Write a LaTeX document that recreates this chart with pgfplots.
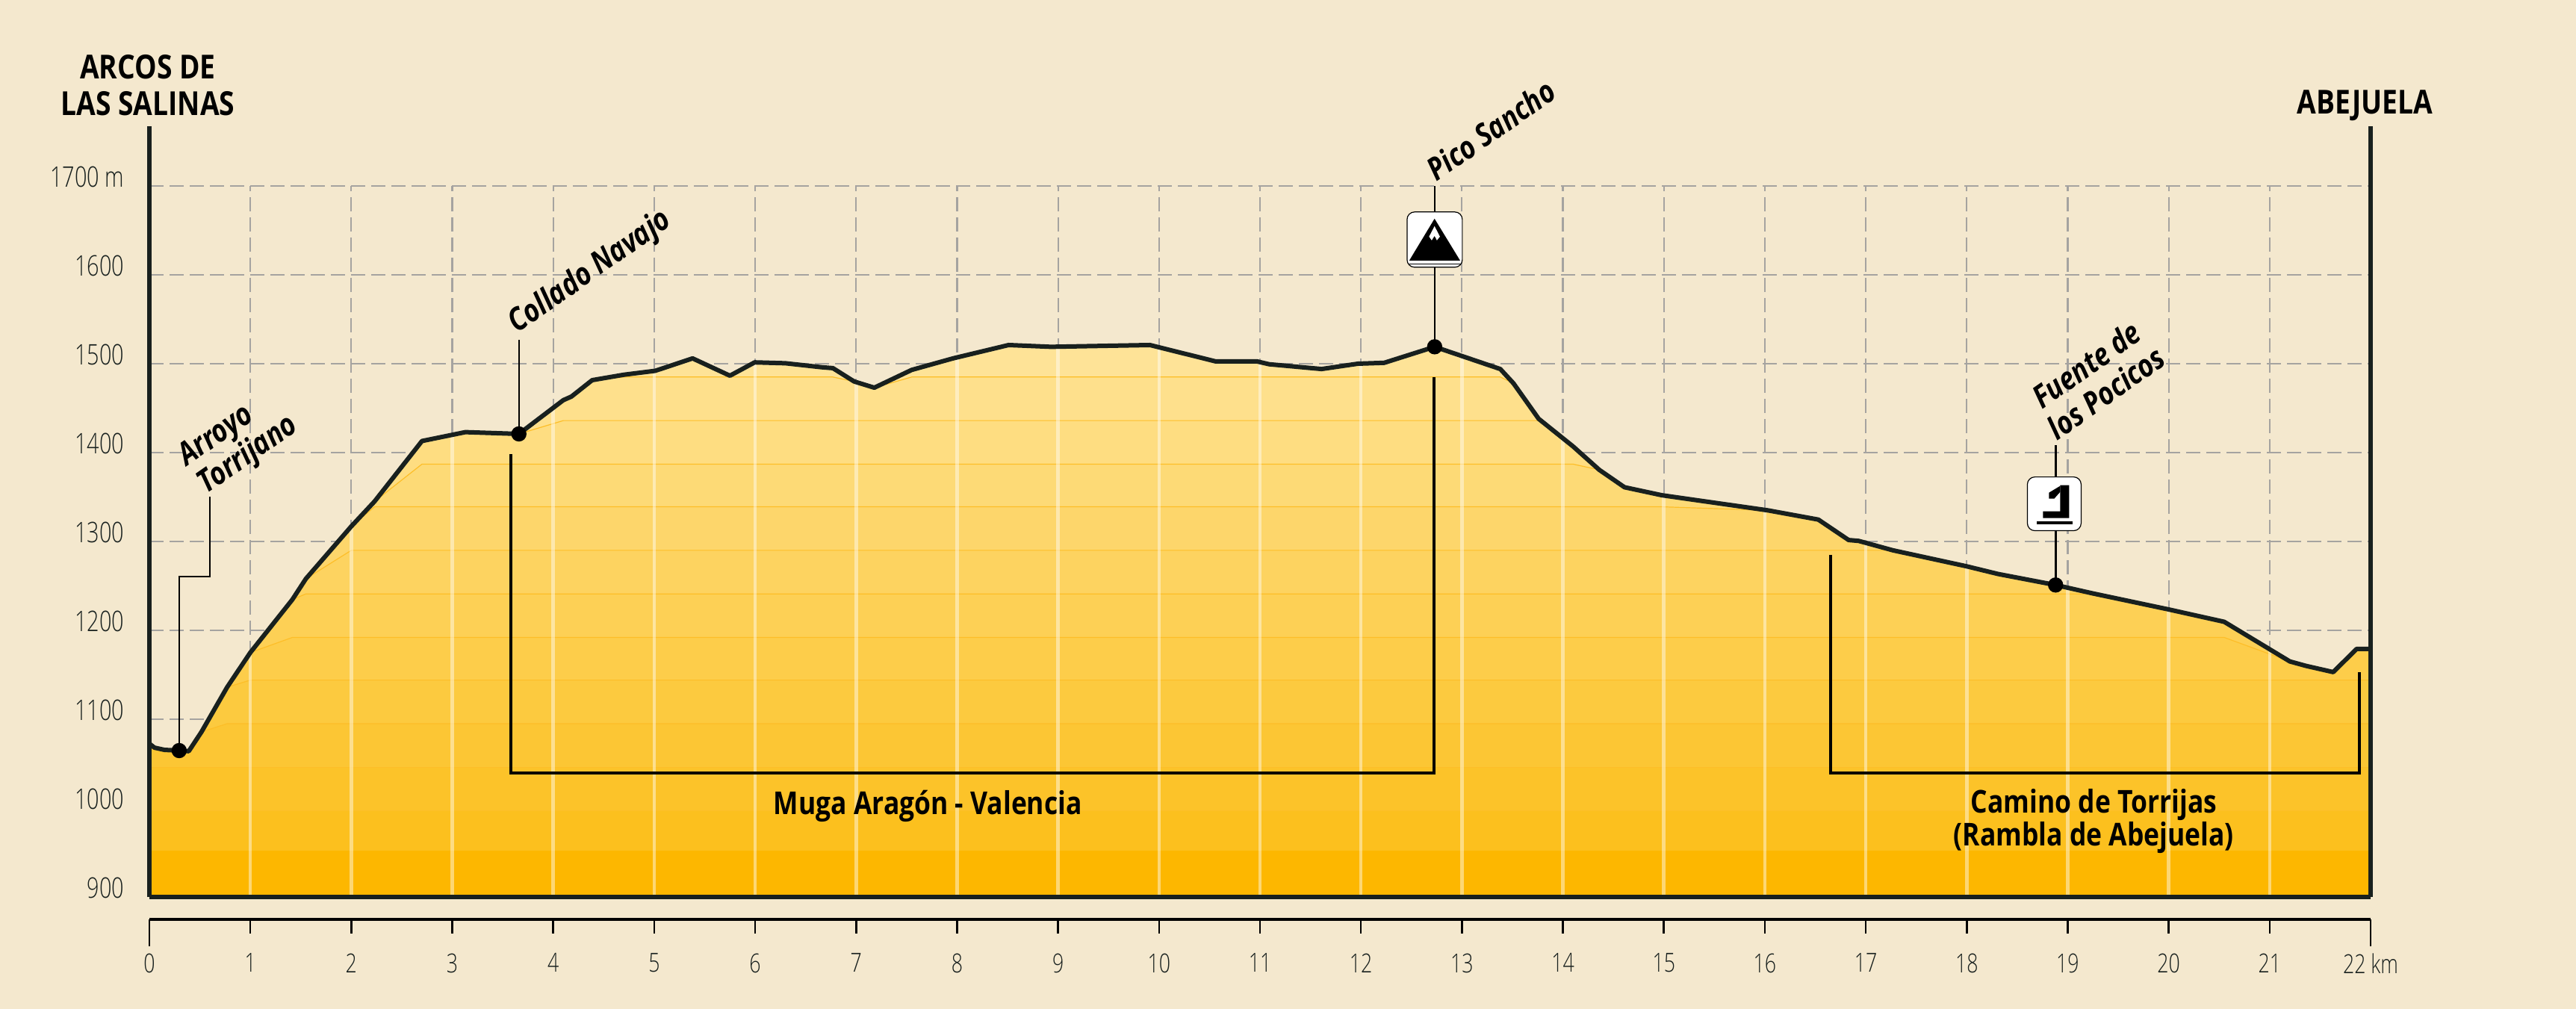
\documentclass[border=0pt]{standalone}
\usepackage{pgfplots}
\usepackage{pgfplotstable}
\usepackage{fontspec}
\pgfplotsset{compat=1.18}
\setmainfont{Open Sans}[FakeStretch=0.84]
\newfontfamily\lightfont{Open Sans Light}[FakeStretch=0.76]
\definecolor{paper}{RGB}{244,232,206}
\definecolor{ink}{RGB}{24,32,30}
\definecolor{gridc}{RGB}{165,163,160}
\definecolor{base}{RGB}{253,183,0}
\definecolor{lc}{RGB}{253,190,40}
\pgfplotstableread{
km m
0 1072.5
0.05 1068
0.15 1065.5
0.295 1064.7
0.39 1064
0.516 1085.7
0.77 1136
1.0 1175
1.416 1234.6
1.55 1258
2.0 1317
2.23 1345
2.70 1413
3.13 1423
3.66 1421
4.10 1459
4.18 1463
4.386 1481.5
4.70 1487.6
5.01 1492
5.38 1506
5.75 1486.5
5.995 1501.5
6.3 1500.5
6.66 1496
6.77 1495
6.98 1480
7.18 1473
7.55 1493
7.96 1506
8.51 1521
8.93 1519
9.91 1521
10.56 1502.6
10.97 1502.6
11.09 1499.4
11.61 1494
11.97 1500
12.23 1501
12.73 1519
13.38 1494
13.51 1478
13.76 1438
14.10 1407
14.36 1380.6
14.61 1361
14.98 1352
16.03 1335
16.53 1324.6
16.83 1301.6
16.93 1300.6
17.27 1290
18.0 1272
18.31 1263.4
18.88 1251
19.25 1241.5
20.0 1223.5
20.55 1209.6
21.2 1165
21.36 1160
21.63 1153
21.86 1179
22 1179
}\profile
\pgfplotstableread{
km m
1 1175
2 1317
3 1421
4 1449
5 1492
6 1501
7 1479
8 1507
9 1519
10 1520
11 1502
12 1500
13 1509
14 1416
15 1352
16 1336
17 1300
18 1272
19 1248
20 1223.5
21 1179
}\combs
\newcommand{\bandrgb}[4]{%
  \addplot[draw=none,fill={rgb,255:red,#2;green,#3;blue,#4}] table[x=km,y expr={min(\thisrow{m},#1)}] {\profile} \closedcycle;
  \addplot[lc,line width=0.012cm] table[x=km,y expr={min(\thisrow{m},#1)}] {\profile};
}
\begin{document}
\begin{tikzpicture}
\path[use as bounding box,fill=paper] (0,0) rectangle (34.49cm,13.51cm);
\begin{axis}[
  at={(2cm,1.5cm)},anchor=south west,
  scale only axis,width=29.74cm,height=10.32cm,
  xmin=0,xmax=22,ymin=900,ymax=1767.2,
  axis x line=bottom,axis y line=box,
  x axis line style={-},
  axis line style={ink,line width=0.055cm},
  xtick=\empty,
  ytick={900,1000,...,1700},
  yticklabels={900,1000,1100,1200,1300,1400,1500,1600,1700 m},
  ytick pos=left,
  major tick length=0pt,
  tick style={draw=none},
  yticklabel style={font=\lightfont\fontsize{10.8}{12}\selectfont,text=ink,anchor=east,xshift=-0.33cm,yshift=0.12cm,inner sep=0pt},
  axis on top,
  clip mode=individual,
]
% grid
\addplot[gridc,line width=0.022cm,dash pattern=on 0.19cm off 0.08cm] table[x=x,y=y] {
x y
0 1000
22 1000

0 1100
22 1100

0 1200
22 1200

0 1300
22 1300

0 1400
22 1400

0 1500
22 1500

0 1600
22 1600

0 1700
22 1700

1 900
1 1700

2 900
2 1700

3 900
3 1700

4 900
4 1700

5 900
5 1700

6 900
6 1700

7 900
7 1700

8 900
8 1700

9 900
9 1700

10 900
10 1700

11 900
11 1700

12 900
12 1700

13 900
13 1700

14 900
14 1700

15 900
15 1700

16 900
16 1700

17 900
17 1700

18 900
18 1700

19 900
19 1700

20 900
20 1700

21 900
21 1700
};
% tint bands of the area under the profile
\addplot[draw=none,fill={rgb,255:red,254;green,227;blue,151}] table[x=km,y=m] {\profile} \closedcycle;
\bandrgb{1485}{254}{224}{140}
\bandrgb{1436}{254}{221}{129}
\bandrgb{1387}{253}{218}{118}
\bandrgb{1339}{253}{214}{107}
\bandrgb{1290}{253}{211}{96}
\bandrgb{1241}{253}{208}{85}
\bandrgb{1192}{253}{205}{74}
\bandrgb{1144}{252}{202}{63}
\bandrgb{1095}{252}{198}{52}
\bandrgb{1046}{252}{195}{41}
\bandrgb{997}{252}{192}{30}
\addplot[draw=none,fill=base] table[x=km,y expr={min(\thisrow{m},952)}] {\profile} \closedcycle;
% pale kilometre lines
\addplot[ycomb,mark=none,white,opacity=0.45,line width=0.045cm] table[x=km,y=m] {\combs};
% brackets
\addplot[black,line width=0.04cm,line join=miter] coordinates {(3.58,1398)(3.58,1039.7)(12.72,1039.7)(12.72,1485)};
\addplot[black,line width=0.04cm,line join=miter] coordinates {(16.65,1285)(16.65,1039.7)(21.89,1039.7)(21.89,1153)};
% callouts
\addplot[black,line width=0.025cm] coordinates {(0.295,1064.7)(0.295,1260.5)(0.6,1260.5)(0.6,1350.4)};
\addplot[black,line width=0.025cm] coordinates {(3.66,1421)(3.66,1527)};
\addplot[black,line width=0.025cm] coordinates {(12.73,1519)(12.73,1700)};
\addplot[black,line width=0.025cm] coordinates {(18.88,1251)(18.88,1408)};
% profile
\addplot[ink,line width=0.06cm,line join=round] table[x=km,y=m] {\profile};
% points
\addplot[only marks,mark=*,mark size=2.7pt,mark options={fill=black,draw=black}] coordinates {(0.295,1064.7)(3.66,1421)(12.73,1519)(18.88,1251)};
\end{axis}
% kilometre ruler
\begin{axis}[
  at={(2cm,1.2cm)},anchor=south west,
  scale only axis,width=29.74cm,height=0.2cm,
  xmin=0,xmax=22,ymin=0,ymax=1,
  axis x line=bottom,axis y line=none,
  x axis line style={-,black,line width=0.04cm},
  xtick={0,1,...,22},
  xticklabels={0,1,2,3,4,5,6,7,8,9,10,11,12,13,14,15,16,17,18,19,20,21,22 km},
  tick align=outside,
  major tick length=0.19cm,
  tick style={black,line width=0.025cm},
  extra x ticks={0,22},
  extra x tick labels={},
  extra x tick style={major tick length=0.36cm,tick style={black,line width=0.025cm}},
  xticklabel style={font=\lightfont\fontsize{10}{12}\selectfont,text=ink,inner sep=0pt,yshift=-0.26cm},
]
\addplot[draw=none] coordinates {(0,0)(22,0)};
\end{axis}
\begin{scope}[x=0.01cm,y=-0.01cm,yshift=13.51cm]
\node[font=\bfseries\fontsize{12.6}{13.8}\selectfont,text=black,align=center] at (198,114) {ARCOS DE\\LAS SALINAS};
\node[font=\bfseries\fontsize{12.6}{13.8}\selectfont,text=black] at (3168,141) {ABEJUELA};
\node[font=\bfseries\fontsize{12}{14}\selectfont,text=black] at (1243,1080) {Muga Aragón - Valencia};
\node[font=\bfseries\fontsize{12}{12.6}\selectfont,text=black,align=center] at (2805,1100) {Camino de Torrijas\\(Rambla de Abejuela)};
\node[font=\bfseries\itshape\fontsize{12}{13}\selectfont,text=black,rotate=35,align=left] at (320,592) {Arroyo\\Torrijano};
\node[font=\bfseries\itshape\fontsize{12}{13}\selectfont,text=black,rotate=35] at (791,365) {Collado Navajo};
\node[font=\bfseries\itshape\fontsize{12}{13}\selectfont,text=black,rotate=35] at (1997,174) {Pico Sancho};
\node[font=\bfseries\itshape\fontsize{12}{13}\selectfont,text=black,rotate=35,align=center] at (2808,507) {Fuente de\\los Pocicos};
% mountain icon
\draw[black,line width=0.012cm,fill=white,rounded corners=0.1cm] (1885,284) rectangle (1959,358);
\fill[black] (1888,349) -- (1921.8,293) -- (1956,349) -- cycle;
\fill[white] (1921.8,303) -- (1929,317) -- (1925,322) -- (1921.8,316) -- (1918,322) -- (1914.5,317) -- cycle;
\draw[black,line width=0.01cm] (1888,354) -- (1956,354);
% spring icon
\draw[black,line width=0.012cm,fill=white,rounded corners=0.1cm] (2716,639) rectangle (2788,711);
\fill[black] (2760,650) -- (2772,650) -- (2772,694) -- (2737,694) -- (2737,685) -- (2760,685) -- cycle;
\fill[black] (2745,668) -- (2745,660) -- (2760,651) -- (2760,659) -- (2752,668) -- cycle;
\fill[black] (2729,698) rectangle (2777,702);
\end{scope}
\end{tikzpicture}
\end{document}
